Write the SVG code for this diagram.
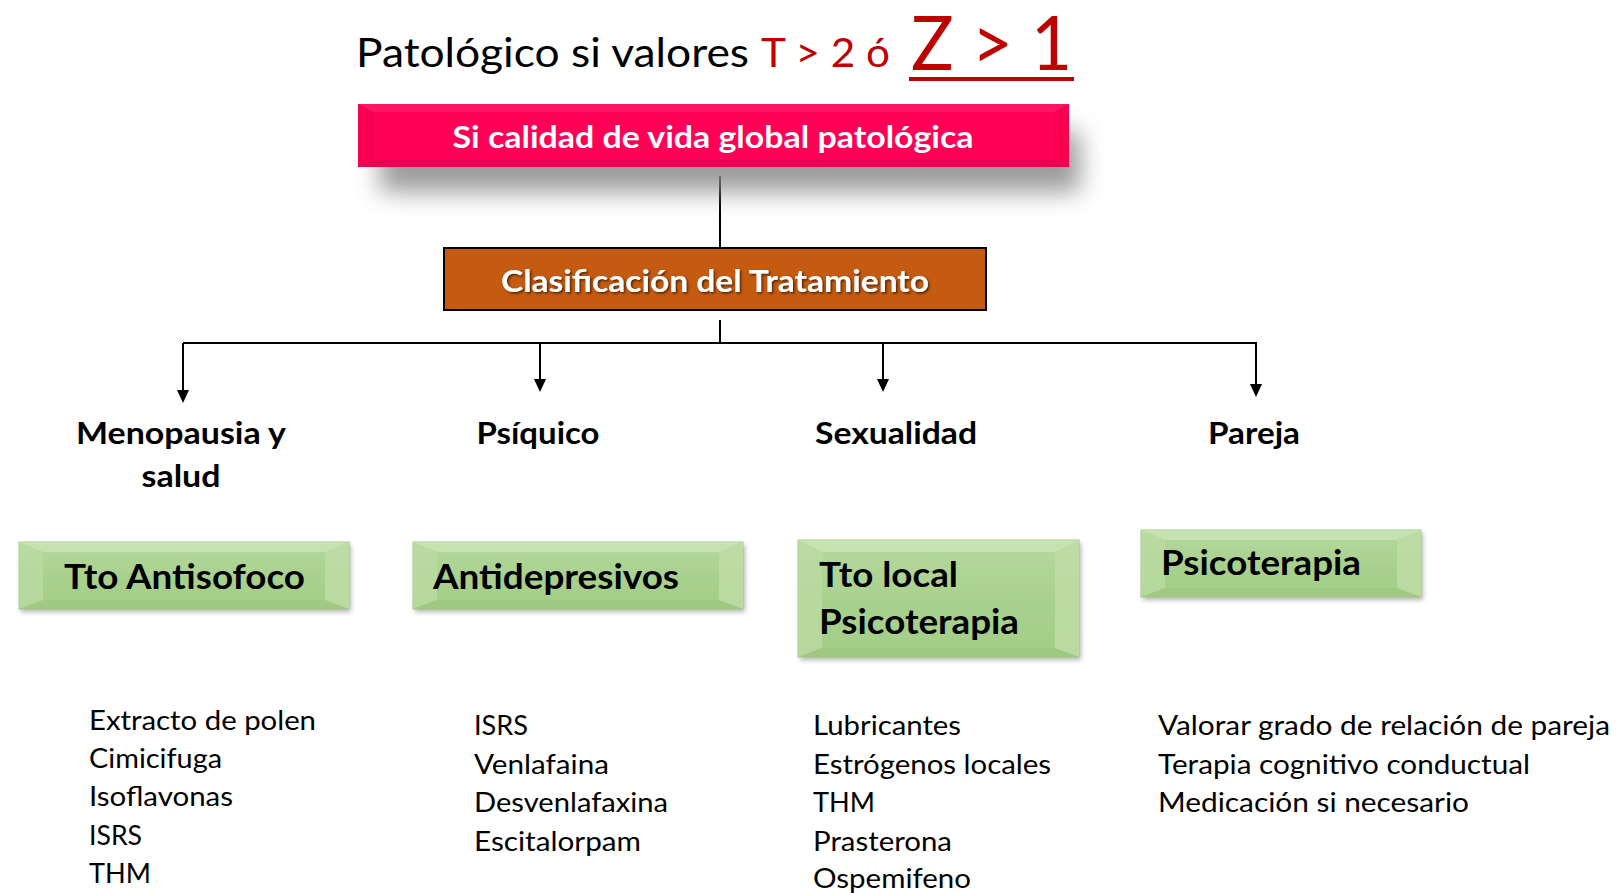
<svg xmlns="http://www.w3.org/2000/svg" width="1619" height="893" viewBox="0 0 1619 893">
<defs>
<style>
.t{font-family:Lato,"Open Sans","Liberation Sans",sans-serif}
.b{font-weight:bold}
.lab{font-family:Lato,"Open Sans","Liberation Sans",sans-serif;font-weight:bold;font-size:31px;fill:#000}
.gt{font-family:Lato,"Open Sans","Liberation Sans",sans-serif;font-weight:bold;font-size:34px;fill:#000}
.li{font-family:Lato,"Open Sans","Liberation Sans",sans-serif;font-size:27px;fill:#000}
.conn{stroke:#000;stroke-width:2;fill:none}
.gface{fill:url(#green);stroke:#A4C98B;stroke-width:1}
.gtop{fill:#CBE5B8;opacity:0.75}
.gleft{fill:#BADB A3;fill:#BADBA3;opacity:0.8}
.gright{fill:#BFDDA7;opacity:0.8}
.gbot{fill:#9CC67F;opacity:0.5}
.gsh{fill:#777;opacity:0.55}
</style>
<filter id="bigsh" x="-20%" y="-50%" width="140%" height="250%"><feGaussianBlur stdDeviation="12"/></filter>
<filter id="smsh" x="-10%" y="-20%" width="120%" height="150%"><feGaussianBlur stdDeviation="2.5"/></filter>
<filter id="tsh" x="-5%" y="-20%" width="110%" height="150%"><feDropShadow dx="1.5" dy="1.5" stdDeviation="1" flood-color="#000" flood-opacity="0.6"/></filter>
<linearGradient id="green" x1="0" y1="0" x2="0" y2="1">
<stop offset="0" stop-color="#B6D99E"/><stop offset="0.5" stop-color="#A9D18E"/><stop offset="1" stop-color="#A3CD87"/>
</linearGradient>
</defs>
<rect width="1619" height="893" fill="#fff"/>

<g id="title">
<text class="t" x="356" y="67" font-size="40" fill="#000" textLength="393" lengthAdjust="spacingAndGlyphs">Patológico si valores</text>
<text class="t" x="761" y="67" font-size="40" fill="#C00000" textLength="129" lengthAdjust="spacingAndGlyphs">T &gt; 2 ó</text>
<text class="t" x="911" y="70" font-size="76" fill="#C00000" textLength="161" lengthAdjust="spacingAndGlyphs">Z &gt; 1</text>
<rect x="909" y="77" width="165" height="4" fill="#C00000"/>
</g>

<g id="connectors">
<line class="conn" x1="720" y1="176" x2="720" y2="247"/>
<line class="conn" x1="720" y1="320" x2="720" y2="343"/>
<line class="conn" x1="183" y1="343" x2="1257" y2="343"/>
<line class="conn" x1="183" y1="343" x2="183" y2="392"/>
<path d="M177,390 L189,390 L183,403 Z" fill="#000"/>
<line class="conn" x1="540" y1="343" x2="540" y2="381"/>
<path d="M534,379 L546,379 L540,392 Z" fill="#000"/>
<line class="conn" x1="883" y1="343" x2="883" y2="381"/>
<path d="M877,379 L889,379 L883,392 Z" fill="#000"/>
<line class="conn" x1="1256" y1="343" x2="1256" y2="386"/>
<path d="M1250,384 L1262,384 L1256,397 Z" fill="#000"/>
</g>

<g id="node-calidad">
<rect x="380" y="132" width="700" height="60" fill="#8a8a8a" opacity="0.85" filter="url(#bigsh)"/>
<rect x="358" y="104" width="711" height="63" fill="#FF0057"/>
<polygon points="358,104 1069,104 1054,112 373,112" fill="#FF1E6A" opacity="0.7"/>
<polygon points="358,167 1069,167 1054,160 373,160" fill="#E6004E" opacity="0.7"/>
<polygon points="358,104 373,112 373,160 358,167" fill="#F2004F" opacity="0.6"/>
<polygon points="1069,104 1054,112 1054,160 1069,167" fill="#F2004F" opacity="0.6"/>
<text class="t b" x="713" y="148" font-size="31" fill="#fff" text-anchor="middle" textLength="521" lengthAdjust="spacingAndGlyphs">Si calidad de vida global patológica</text>
</g>

<g id="node-clasificacion">
<rect x="444" y="248" width="542" height="62" fill="#C55A11" stroke="#000" stroke-width="2"/>
<text class="t b" x="715" y="292" font-size="31" fill="#fff" text-anchor="middle" filter="url(#tsh)" textLength="428" lengthAdjust="spacingAndGlyphs">Clasificación del Tratamiento</text>
</g>

<g id="label-menopausia">
<text class="lab" x="181" y="444" text-anchor="middle" textLength="210" lengthAdjust="spacingAndGlyphs">Menopausia y</text>
<text class="lab" x="181" y="487" text-anchor="middle" textLength="79" lengthAdjust="spacingAndGlyphs">salud</text>
</g>
<g id="label-psiquico"><text class="lab" x="538" y="444" text-anchor="middle" textLength="123" lengthAdjust="spacingAndGlyphs">Psíquico</text></g>
<g id="label-sexualidad"><text class="lab" x="896" y="444" text-anchor="middle" textLength="162" lengthAdjust="spacingAndGlyphs">Sexualidad</text></g>
<g id="label-pareja"><text class="lab" x="1254" y="444" text-anchor="middle" textLength="92" lengthAdjust="spacingAndGlyphs">Pareja</text></g>

<g id="box-antisofoco">
<rect class="gsh" x="21" y="545" width="330" height="67" filter="url(#smsh)"/>
<rect class="gface" x="19" y="542" width="330" height="67"/>
<polygon class="gtop" points="19,542 349,542 325,552 43,552"/>
<polygon class="gleft" points="19,542 43,552 43,600 19,609"/>
<polygon class="gright" points="349,542 325,552 325,600 349,609"/>
<polygon class="gbot" points="19,609 349,609 325,600 43,600"/>
<text class="gt" x="64" y="589" textLength="241" lengthAdjust="spacingAndGlyphs">Tto Antisofoco</text>
</g>

<g id="box-antidepresivos">
<rect class="gsh" x="415" y="545" width="330" height="67" filter="url(#smsh)"/>
<rect class="gface" x="413" y="542" width="330" height="67"/>
<polygon class="gtop" points="413,542 743,542 719,552 437,552"/>
<polygon class="gleft" points="413,542 437,552 437,600 413,609"/>
<polygon class="gright" points="743,542 719,552 719,600 743,609"/>
<polygon class="gbot" points="413,609 743,609 719,600 437,600"/>
<text class="gt" x="433" y="589" textLength="246" lengthAdjust="spacingAndGlyphs">Antidepresivos</text>
</g>

<g id="box-tto-local">
<rect class="gsh" x="800" y="543" width="281" height="117" filter="url(#smsh)"/>
<rect class="gface" x="798" y="540" width="281" height="117"/>
<polygon class="gtop" points="798,540 1079,540 1055,552 822,552"/>
<polygon class="gleft" points="798,540 822,552 822,648 798,657"/>
<polygon class="gright" points="1079,540 1055,552 1055,648 1079,657"/>
<polygon class="gbot" points="798,657 1079,657 1055,648 822,648"/>
<text class="gt" x="819" y="587" textLength="139" lengthAdjust="spacingAndGlyphs">Tto local</text>
<text class="gt" x="819" y="634" textLength="200" lengthAdjust="spacingAndGlyphs">Psicoterapia</text>
</g>

<g id="box-psicoterapia">
<rect class="gsh" x="1143" y="533" width="280" height="67" filter="url(#smsh)"/>
<rect class="gface" x="1141" y="530" width="280" height="67"/>
<polygon class="gtop" points="1141,530 1421,530 1397,540 1165,540"/>
<polygon class="gleft" points="1141,530 1165,540 1165,588 1141,597"/>
<polygon class="gright" points="1421,530 1397,540 1397,588 1421,597"/>
<polygon class="gbot" points="1141,597 1421,597 1397,588 1165,588"/>
<text class="gt" x="1161" y="575" textLength="200" lengthAdjust="spacingAndGlyphs">Psicoterapia</text>
</g>

<g id="list-menopausia">
<text class="li" x="89" y="730" textLength="227" lengthAdjust="spacingAndGlyphs">Extracto de polen</text>
<text class="li" x="89" y="768" textLength="133" lengthAdjust="spacingAndGlyphs">Cimicifuga</text>
<text class="li" x="89" y="806" textLength="144" lengthAdjust="spacingAndGlyphs">Isoflavonas</text>
<text class="li" x="89" y="845" textLength="53" lengthAdjust="spacingAndGlyphs">ISRS</text>
<text class="li" x="89" y="883" textLength="62" lengthAdjust="spacingAndGlyphs">THM</text>
</g>
<g id="list-psiquico">
<text class="li" x="474" y="735" textLength="54" lengthAdjust="spacingAndGlyphs">ISRS</text>
<text class="li" x="474" y="774" textLength="135" lengthAdjust="spacingAndGlyphs">Venlafaina</text>
<text class="li" x="474" y="812" textLength="194" lengthAdjust="spacingAndGlyphs">Desvenlafaxina</text>
<text class="li" x="474" y="851" textLength="167" lengthAdjust="spacingAndGlyphs">Escitalorpam</text>
</g>
<g id="list-sexualidad">
<text class="li" x="813" y="735" textLength="148" lengthAdjust="spacingAndGlyphs">Lubricantes</text>
<text class="li" x="813" y="774" textLength="238" lengthAdjust="spacingAndGlyphs">Estrógenos locales</text>
<text class="li" x="813" y="812" textLength="62" lengthAdjust="spacingAndGlyphs">THM</text>
<text class="li" x="813" y="851" textLength="139" lengthAdjust="spacingAndGlyphs">Prasterona</text>
<text class="li" x="813" y="888" textLength="158" lengthAdjust="spacingAndGlyphs">Ospemifeno</text>
</g>
<g id="list-pareja">
<text class="li" x="1158" y="735" textLength="452" lengthAdjust="spacingAndGlyphs">Valorar grado de relación de pareja</text>
<text class="li" x="1158" y="774" textLength="372" lengthAdjust="spacingAndGlyphs">Terapia cognitivo conductual</text>
<text class="li" x="1158" y="812" textLength="311" lengthAdjust="spacingAndGlyphs">Medicación si necesario</text>
</g>
</svg>
